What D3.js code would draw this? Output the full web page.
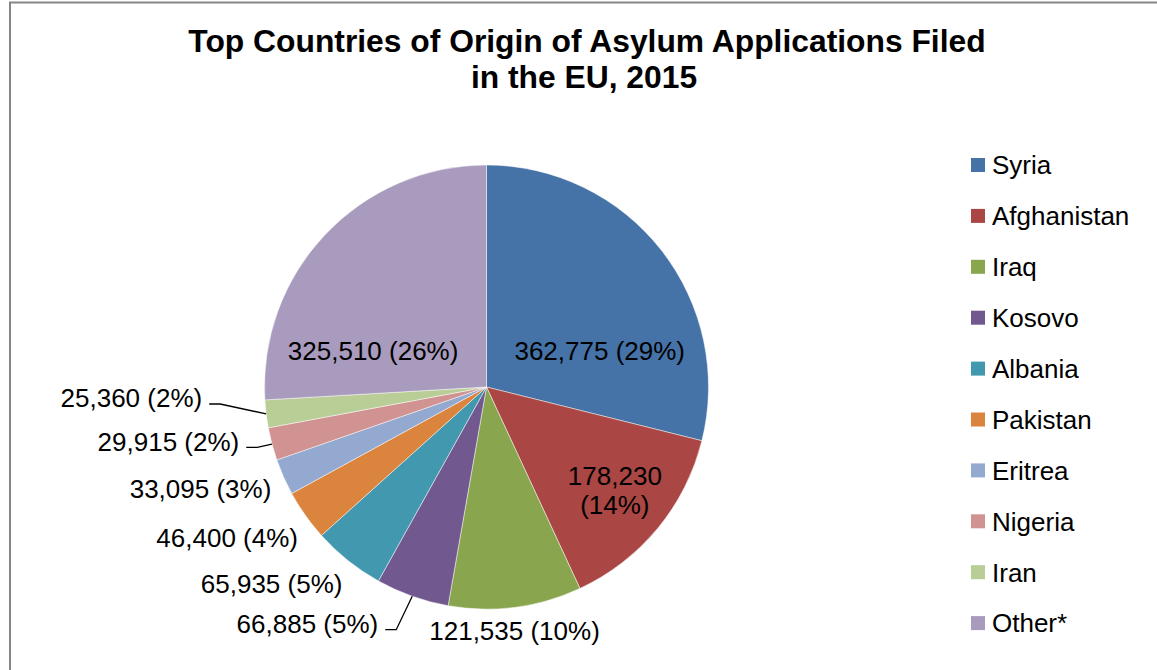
<!DOCTYPE html>
<html><head><meta charset="utf-8">
<script src="https://cdn.jsdelivr.net/npm/d3@7"></script>
<style>body{margin:0;background:#fff;overflow:hidden}</style>
</head><body>
<svg id="chart" width="1157" height="670"></svg>
<script>
const categories = ["Syria","Afghanistan","Iraq","Kosovo","Albania","Pakistan","Eritrea","Nigeria","Iran","Other*"];
const values = [362775,178230,121535,66885,65935,46400,33095,29915,25360,325510];
const colors = ["#4572A7","#AA4643","#89A54E","#71588F","#4198AF","#DB843D","#93A9CF","#D19392","#B9CD96","#A99BBD"];
const titleLines = ["Top Countries of Origin of Asylum Applications Filed","in the EU, 2015"];

// label layout (placement style and small nudges, not data)
const labelMode = ["inside","inside","outside","leader","outside","outside","outside","leader","leader","inside"];
const labelWrap = [false,true,false,false,false,false,false,false,false,false];
const labelNudgeX = [-18, 0, -2, -31, 0, 0, -4, -24, -55, 7.7];
const labelNudgeY = [66, -3, 2, 6, 3.5, 4, -4.5, -18, -30, 77.7];

const font = "'Liberation Sans', Arial, sans-serif";
const svg = d3.select("#chart");
const cx = 486.5, cy = 387, R = 222;

// outer frame
svg.append("rect").attr("x",10).attr("y",2.5).attr("width",1200).attr("height",700)
  .attr("fill","#fff").attr("stroke","#868686").attr("stroke-width",2);

// title
svg.append("g").selectAll("text").data(titleLines).join("text")
  .attr("x",(d,i)=> i === 0 ? 587 : 584).attr("y",(d,i)=>52+i*36)
  .attr("text-anchor","middle").attr("font-family",font).attr("font-weight","bold")
  .attr("font-size",31.8).attr("fill","#000").text(d=>d);

const total = d3.sum(values);
const data = categories.map((c,i)=>({name:c,value:values[i],color:colors[i],i}));
const pie = d3.pie().sort(null).value(d=>d.value).startAngle(0).endAngle(2*Math.PI);
const arcs = pie(data);
const arc = d3.arc().innerRadius(0).outerRadius(R);

const g = svg.append("g").attr("transform",`translate(${cx},${cy})`);
g.selectAll("path").data(arcs).join("path")
  .attr("d",arc).attr("fill",d=>d.data.color)
  .attr("stroke","#ffffff").attr("stroke-opacity",0.6).attr("stroke-width",0.8);

const fmt = d3.format(",");
const pct = v => Math.round(v/total*100) + "%";
const fs = 26, digitMid = 0.358*fs;
function polar(a,r){ return [r*Math.sin(a), -r*Math.cos(a)]; }

const lbl = g.append("g").attr("font-family",font).attr("font-size",fs).attr("fill","#000");
arcs.forEach(d=>{
  const i = d.data.i;
  const a = (d.startAngle+d.endAngle)/2;
  const mode = labelMode[i];
  const txt1 = fmt(d.data.value), txt2 = "(" + pct(d.data.value) + ")";
  let x, y, anchor;
  if (mode === "inside") {
    const p = polar(a, 0.75*R);
    x = p[0] + labelNudgeX[i]; y = p[1] + labelNudgeY[i]; anchor = "middle";
  } else {
    const p = polar(a, R+9);
    const s = Math.sin(a);
    anchor = s < -0.3 ? "end" : (s > 0.3 ? "start" : "middle");
    x = p[0] + labelNudgeX[i]; y = p[1] + 13 + labelNudgeY[i];
  }
  if (labelWrap[i]) {
    const t = lbl.append("text").attr("text-anchor",anchor);
    t.append("tspan").attr("x",x).attr("y",y-14.25+digitMid).text(txt1);
    t.append("tspan").attr("x",x).attr("y",y+14.25+digitMid).text(txt2);
  } else {
    lbl.append("text").attr("text-anchor",anchor).attr("x",x).attr("y",y+digitMid)
      .text(txt1 + " " + txt2);
  }
  if (mode === "leader") {
    const e = polar(a, R);
    const ly = y + 6;
    g.append("path")
      .attr("d", d3.line()([[x+7, ly],[x+18, ly],[e[0], e[1]]]))
      .attr("fill","none").attr("stroke","#000").attr("stroke-width",1.3);
  }
});

// legend
const leg = svg.append("g").attr("font-family",font).attr("font-size",26);
const legItems = leg.selectAll("g").data(data).join("g")
  .attr("transform",(d,i)=>`translate(971,${165 + i*50.9})`);
legItems.append("rect").attr("x",0).attr("y",-7).attr("width",14).attr("height",14)
  .attr("fill",d=>d.color);
legItems.append("text").attr("x",21).attr("y",digitMid).attr("fill","#000").text(d=>d.name);
</script>
</body></html>
